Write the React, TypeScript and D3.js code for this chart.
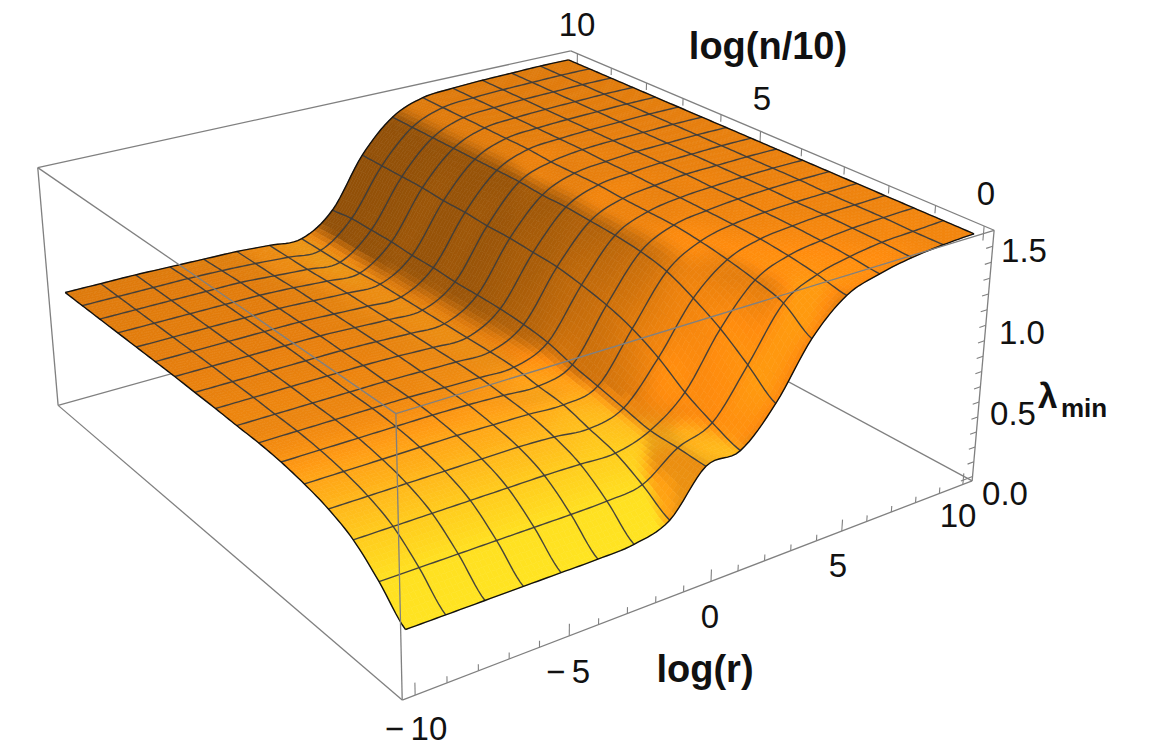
import { useMemo } from "react";
import * as d3 from "d3";

const width = 1149;
const height = 753;

// lambda_min, one row per log(n/10) mesh line, one column per log(r) mesh line (16 cells each way)
const lambdaRows = [
  [0.32, 0.32, 0.32, 0.32, 0.32, 0.32, 0.33, 0.4, 0.657, 0.68, 0.9, 1.23, 1.43, 1.5, 1.54, 1.56, 1.57],
  [0.48, 0.48, 0.48, 0.48, 0.48, 0.48, 0.485, 0.51, 0.665, 0.75, 1.04, 1.356, 1.47, 1.52, 1.55, 1.56, 1.57],
  [0.61, 0.61, 0.61, 0.61, 0.61, 0.61, 0.605, 0.6, 0.67, 0.84, 1.17, 1.41, 1.5, 1.535, 1.555, 1.565, 1.57],
  [0.68, 0.68, 0.68, 0.68, 0.68, 0.68, 0.67, 0.65, 0.71, 0.96, 1.27, 1.45, 1.52, 1.545, 1.56, 1.565, 1.57],
  [0.72, 0.72, 0.72, 0.72, 0.72, 0.715, 0.71, 0.7, 0.75, 1.05, 1.35, 1.48, 1.53, 1.55, 1.56, 1.565, 1.57],
  [0.745, 0.745, 0.745, 0.745, 0.745, 0.74, 0.73, 0.72, 0.79, 1.11, 1.39, 1.5, 1.535, 1.555, 1.565, 1.57, 1.57],
  [0.757, 0.757, 0.757, 0.757, 0.757, 0.75, 0.745, 0.745, 0.84, 1.15, 1.41, 1.505, 1.54, 1.555, 1.565, 1.57, 1.57],
  [0.76, 0.76, 0.76, 0.76, 0.76, 0.755, 0.75, 0.75, 0.865, 1.18, 1.42, 1.51, 1.54, 1.56, 1.565, 1.57, 1.57],
  [0.765, 0.765, 0.765, 0.765, 0.765, 0.76, 0.75, 0.75, 0.877, 1.19, 1.43, 1.52, 1.545, 1.56, 1.565, 1.57, 1.57],
  [0.767, 0.767, 0.767, 0.767, 0.767, 0.76, 0.75, 0.75, 0.88, 1.2, 1.43, 1.52, 1.545, 1.56, 1.565, 1.57, 1.57],
  [0.77, 0.77, 0.77, 0.77, 0.77, 0.76, 0.75, 0.75, 0.88, 1.2, 1.44, 1.52, 1.55, 1.56, 1.565, 1.57, 1.57],
  [0.77, 0.77, 0.77, 0.77, 0.77, 0.76, 0.75, 0.75, 0.89, 1.21, 1.44, 1.53, 1.55, 1.56, 1.565, 1.57, 1.57],
  [0.77, 0.77, 0.77, 0.77, 0.77, 0.76, 0.75, 0.75, 0.89, 1.21, 1.44, 1.53, 1.55, 1.56, 1.565, 1.57, 1.57],
  [0.77, 0.77, 0.77, 0.77, 0.77, 0.76, 0.745, 0.74, 0.9, 1.22, 1.44, 1.53, 1.55, 1.56, 1.565, 1.57, 1.57],
  [0.77, 0.77, 0.77, 0.77, 0.77, 0.755, 0.74, 0.73, 0.9, 1.22, 1.44, 1.53, 1.55, 1.56, 1.565, 1.57, 1.57],
  [0.77, 0.77, 0.77, 0.77, 0.765, 0.755, 0.74, 0.73, 0.9, 1.22, 1.44, 1.53, 1.55, 1.56, 1.565, 1.57, 1.57],
  [0.77, 0.77, 0.77, 0.765, 0.76, 0.755, 0.74, 0.73, 0.88, 1.22, 1.44, 1.53, 1.55, 1.56, 1.565, 1.57, 1.57],
];

const rTicks = d3.range(-10, 11);
const nTicks = d3.range(0, 11);
const zTicks = d3.range(0, 16).map((d) => d / 10);

const rBox = [-10.4, 10.4];
const nBox = [-0.2, 10.2];
const zBox = [-0.03, 1.6];

// camera calibration: [r, n, z, screen x, screen y]
const cameraAnchors = [
  [-10.4, -0.2, -0.03, 402, 701],
  [-10.4, -0.2, 1.6, 396, 415],
  [10.4, -0.2, -0.03, 972, 480],
  [10.4, -0.2, 1.6, 995, 230],
  [-10.4, 10.2, -0.03, 58, 406],
  [-10.4, 10.2, 1.6, 37, 168],
  [10.4, 10.2, 1.6, 571, 51],
  [10, 0, 1.57, 973, 233],
  [10, 10, 1.57, 568, 60],
  [-10, 10, 0.77, 66, 291],
  [-10, 0, 0.32, 406, 626],
  [-5, -0.2, -0.03, 569, 637],
  [0, -0.2, -0.03, 711, 583],
  [10.4, 5, 1.6, 761, 132],
];

function solve(A: number[][], b: number[]) {
  const n = b.length;
  const m = A.map((row, i) => [...row, b[i]]);
  for (let c = 0; c < n; c++) {
    let p = c;
    for (let i = c + 1; i < n; i++) if (Math.abs(m[i][c]) > Math.abs(m[p][c])) p = i;
    [m[c], m[p]] = [m[p], m[c]];
    for (let i = 0; i < n; i++) {
      if (i === c) continue;
      const f = m[i][c] / m[c][c];
      for (let j = c; j <= n; j++) m[i][j] -= f * m[c][j];
    }
  }
  return m.map((row, i) => row[n] / row[i]);
}

function fitCamera() {
  const rows: number[][] = [];
  const rhs: number[] = [];
  cameraAnchors.forEach(([r, n, z, x, y]) => {
    const X = r / 10;
    const Y = n / 10;
    const u = x / 1000;
    const v = y / 1000;
    rows.push([X, Y, z, 1, 0, 0, 0, 0, -u * X, -u * Y, -u * z]);
    rhs.push(u);
    rows.push([0, 0, 0, 0, X, Y, z, 1, -v * X, -v * Y, -v * z]);
    rhs.push(v);
  });
  const AtA = d3.range(11).map((i) => d3.range(11).map((j) => d3.sum(rows, (row) => row[i] * row[j])));
  const Atb = d3.range(11).map((i) => d3.sum(rows, (row, k) => row[i] * rhs[k]));
  return solve(AtA, Atb);
}

const cam = fitCamera();

function project(r: number, n: number, z: number): [number, number] {
  const X = r / 10;
  const Y = n / 10;
  const w = cam[8] * X + cam[9] * Y + cam[10] * z + 1;
  return [
    (1000 * (cam[0] * X + cam[1] * Y + cam[2] * z + cam[3])) / w,
    (1000 * (cam[4] * X + cam[5] * Y + cam[6] * z + cam[7])) / w,
  ];
}

const rScale = d3.scaleLinear().domain([0, 16]).range([-10, 10]);
const nScale = d3.scaleLinear().domain([0, 16]).range([0, 10]);

function cr(p0: number, p1: number, p2: number, p3: number, t: number) {
  return 0.5 * (2 * p1 + (p2 - p0) * t + (2 * p0 - 5 * p1 + 4 * p2 - p3) * t * t + (3 * p1 - p0 - 3 * p2 + p3) * t * t * t);
}

const at = (j: number, k: number) => lambdaRows[Math.max(0, Math.min(16, j))][Math.max(0, Math.min(16, k))];

// smooth height between mesh nodes, u along r, v along n, both in cell units
function height_(u: number, v: number) {
  const k = Math.min(15, Math.floor(u));
  const j = Math.min(15, Math.floor(v));
  const tu = u - k;
  const tv = v - j;
  const col = [-1, 0, 1, 2].map((d) =>
    cr(at(j + d, k - 1), at(j + d, k), at(j + d, k + 1), at(j + d, k + 2), tu),
  );
  return cr(col[0], col[1], col[2], col[3], tv);
}

const orange = "rgb(255,140,14)";
const baseColor = d3
  .scaleLinear<string>()
  .domain([0.32, 0.48, 0.61, 0.68, 0.72, 0.745, 0.77])
  .range(["rgb(255,224,32)", "rgb(255,220,32)", "rgb(255,200,28)", "rgb(255,180,26)", "rgb(255,162,22)", "rgb(255,150,18)", orange])
  .clamp(true);

const floorB = d3.scaleLinear().domain([0.75, 0.9]).range([0.92, 0]).clamp(true);
const capB = d3.scaleLinear().domain([0.75, 0.95]).range([1.02, 1.1]).clamp(true);
const slopeRamp = d3.scaleLinear().domain([0.28, 0.6]).range([0, 1]).clamp(true);
const frontLift = d3.scaleLinear().domain([0, 10]).range([0.18, 0]).clamp(true);

const norm = (v: number[]) => {
  const l = Math.hypot(v[0], v[1], v[2]);
  return v.map((d) => d / l);
};

function shade(u: number, v: number) {
  const e = 0.05;
  const z = height_(u, v);
  const dzdu = (height_(Math.min(16, u + e), v) - height_(Math.max(0, u - e), v)) / (Math.min(16, u + e) - Math.max(0, u - e));
  const dzdv = (height_(u, Math.min(16, v + e)) - height_(u, Math.max(0, v - e))) / (Math.min(16, v + e) - Math.max(0, v - e));
  // box ratios 1 : 1 : 0.4
  const N = norm([-dzdu * 16 * 0.255, -dzdv * 16 * 0.255, 1]);
  const t = slopeRamp(-N[0]);
  const s = t * t * (3 - 2 * t);
  const raw = 0.87 + 0.08 * (1 - v / 16) - (0.3 - frontLift(v)) * s + 0.75 * Math.max(0, -N[1]);
  const b = Math.min(capB(z), Math.max(floorB(z), raw));
  const c = d3.rgb(d3.interpolateRgb(baseColor(z), orange)(0.75 * s));
  return `rgb(${Math.min(255, c.r * b)},${Math.min(255, c.g * b)},${Math.min(255, c.b * b)})`;
}

const line = d3.line();
const SUB = 8;
const boxLine = "#808080";

function Edge({ a, b }: { a: number[]; b: number[] }) {
  return <path d={line([project(a[0], a[1], a[2]), project(b[0], b[1], b[2])]) || ""} stroke={boxLine} strokeWidth={1.3} fill="none" />;
}

const [r0, r1] = rBox;
const [n0, n1] = nBox;
const [z0, z1] = zBox;

export default function App() {
  const patches = useMemo(() => {
    const out: { d: string; fill: string }[] = [];
    const pt = (u: number, v: number) => project(rScale(u), nScale(v), height_(u, v));
    for (let j = 16 * SUB - 1; j >= 0; j--) {
      for (let k = 16 * SUB - 1; k >= 0; k--) {
        const u = k / SUB;
        const v = j / SUB;
        const s = 1 / SUB;
        out.push({
          d: (line([pt(u, v), pt(u + s, v), pt(u + s, v + s), pt(u, v + s)]) || "") + "Z",
          fill: shade(u + s / 2, v + s / 2),
        });
      }
    }
    return out;
  }, []);

  const fine = d3.range(0, 16 * SUB + 1).map((d) => d / SUB);
  const curveAlongR = (v: number) => line(fine.map((u) => project(rScale(u), nScale(v), height_(u, v)))) || "";
  const curveAlongN = (u: number) => line(fine.map((v) => project(rScale(u), nScale(v), height_(u, v)))) || "";

  const font = "'Liberation Sans', Arial, sans-serif";
  const tick = { fontFamily: font, fontSize: 33, textAnchor: "middle" as const, fill: "#111" };
  const title = { fontFamily: font, fontSize: 38, fontWeight: 700, textAnchor: "middle" as const, fill: "#111" };

  return (
    <svg width={width} height={height} style={{ position: "absolute", left: 0, top: 0, background: "white" }}>
      {/* back of the box */}
      <Edge a={[r0, n1, z1]} b={[r1, n1, z1]} />
      <Edge a={[r1, n1, z1]} b={[r1, n0, z1]} />
      <Edge a={[r0, n1, z0]} b={[r0, n1, z1]} />
      <Edge a={[r0, n1, z0]} b={[r1, n1, z0]} />
      <Edge a={[r1, n1, z0]} b={[r1, n0, z0]} />
      <Edge a={[r0, n0, z0]} b={[r0, n1, z0]} />
      <Edge a={[r0, n0, z0]} b={[r1, n0, z0]} />
      <Edge a={[r1, n0, z0]} b={[r1, n0, z1]} />
      {nTicks.map((d) => {
        const size = d % 5 === 0 ? 0.09 : 0.05;
        return <path key={d} d={line([project(r1, d, z1), project(r1, d, z1 - size)]) || ""} stroke={boxLine} strokeWidth={1.1} fill="none" />;
      })}

      {/* surface */}
      <g>
        {patches.map((p, i) => (
          <path key={i} d={p.d} fill={p.fill} stroke={p.fill} strokeWidth={0.6} />
        ))}
      </g>
      <g fill="none" stroke="#3c3c3c" strokeOpacity={0.95} strokeWidth={1.4}>
        {d3.range(1, 16).map((i) => (
          <g key={i}>
            <path d={curveAlongR(i)} />
            <path d={curveAlongN(i)} />
          </g>
        ))}
      </g>
      <g fill="none" stroke="#111" strokeWidth={1.4}>
        <path d={curveAlongR(0)} />
        <path d={curveAlongR(16)} />
        <path d={curveAlongN(0)} />
        <path d={curveAlongN(16)} />
      </g>

      {/* front of the box */}
      <Edge a={[r0, n0, z0]} b={[r0, n0, z1]} />
      <Edge a={[r0, n0, z1]} b={[r1, n0, z1]} />
      <Edge a={[r0, n0, z1]} b={[r0, n1, z1]} />
      {rTicks.map((d) => {
        const size = d % 5 === 0 ? 0.075 : 0.04;
        return <path key={d} d={line([project(d, n0, z0), project(d, n0, z0 + size)]) || ""} stroke={boxLine} strokeWidth={1.1} fill="none" />;
      })}
      {zTicks.map((d) => {
        const size = d % 5 === 0 ? 0.5 : 0.27;
        return <path key={d} d={line([project(r1, n0, d), project(r1 - size, n0, d)]) || ""} stroke={boxLine} strokeWidth={1.1} fill="none" />;
      })}

      <text x={416} y={740} {...tick}>{"\u2212\u200910"}</text>
      <text x={568} y={683} {...tick}>{"\u2212\u20095"}</text>
      <text x={710} y={628} {...tick}>0</text>
      <text x={838} y={577} {...tick}>5</text>
      <text x={958} y={527} {...tick}>10</text>
      <text x={1005} y={505} {...tick}>0.0</text>
      <text x={1013} y={425} {...tick}>0.5</text>
      <text x={1022} y={344} {...tick}>1.0</text>
      <text x={1024} y={262} {...tick}>1.5</text>
      <text x={986} y={205} {...tick}>0</text>
      <text x={762} y={110} {...tick}>5</text>
      <text x={577} y={36} {...tick}>10</text>
      <text x={705} y={682} {...title}>log(r)</text>
      <text x={768} y={59} {...title}>log(n/10)</text>
      <text x={1038} y={408} fontFamily={font} fontWeight={700} fill="#111" fontSize={35}>
        {"\u03bb"}
      </text>
      <text x={1061} y={417} fontFamily={font} fontWeight={700} fill="#111" fontSize={26}>min</text>
    </svg>
  );
}
